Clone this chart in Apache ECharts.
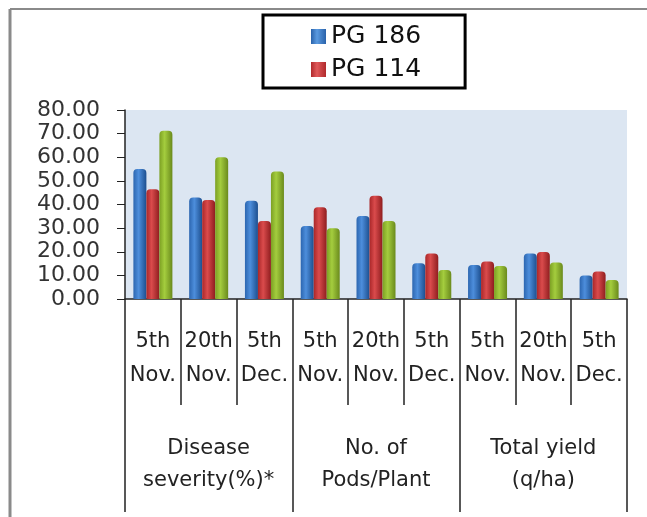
<!DOCTYPE html>
<html><head><meta charset="utf-8">
<script src="https://cdn.jsdelivr.net/npm/echarts@6/dist/echarts.min.js"></script>
<style>html,body{margin:0;padding:0;background:#fff}#c{width:647px;height:517px}</style>
</head><body><div id="c"></div>
<script>
const categories = ['5th\nNov.','20th\nNov.','5th\nDec.','5th\nNov.','20th\nNov.','5th\nDec.','5th\nNov.','20th\nNov.','5th\nDec.'];
const groups = ['Disease\nseverity(%)*','No. of\nPods/Plant','Total yield\n(q/ha)'];
const seriesNames = ['PG 186','PG 114','Series 3'];
const pg186 = [55.0, 43.0, 41.6, 30.9, 35.1, 15.1, 14.4, 19.3, 10.0];
const pg114 = [46.5, 41.9, 33.0, 38.8, 43.7, 19.3, 15.9, 19.9, 11.6];
const series3 = [71.2, 60.0, 54.0, 30.0, 33.0, 12.3, 14.0, 15.5, 8.0];
const yTicks = {min: 0, max: 80, interval: 10};

function grad(a, b, c) {
  return new echarts.graphic.LinearGradient(0, 0, 1, 0, [
    {offset: 0, color: a}, {offset: 0.4, color: b}, {offset: 1, color: c}
  ]);
}
const fills = [
  grad('#2c66b0', '#4d8edc', '#1d4f8f'),
  grad('#aa2729', '#da4b4c', '#8f1d1f'),
  grad('#7ca023', '#a4cd3e', '#6a8a1c')
];
const legendFills = [grad('#2a62aa', '#5a9ae0', '#2a62aa'), grad('#b02a2c', '#e0595a', '#b02a2c')];
const datas = [pg186, pg114, series3];

const chart = echarts.init(document.getElementById('c'), null, {renderer: 'canvas'});
chart.setOption({
  animation: false,
  backgroundColor: '#fff',
  textStyle: {fontFamily: 'DejaVu Sans'},
  graphic: [
    {type: 'line', shape: {x1: 10, y1: 9, x2: 647, y2: 9}, style: {stroke: '#8a8a8a', lineWidth: 2}},
    {type: 'line', shape: {x1: 10, y1: 9, x2: 10, y2: 517}, style: {stroke: '#8a8a8a', lineWidth: 3}}
  ],
  legend: {
    data: [
      {name: 'PG 186', itemStyle: {color: legendFills[0]}},
      {name: 'PG 114', itemStyle: {color: legendFills[1]}}
    ],
    orient: 'vertical', left: 263, top: 15,
    icon: 'rect', itemWidth: 15, itemHeight: 15, itemGap: 8,
    padding: [9, 44, 6, 48],
    borderColor: '#000', borderWidth: 3,
    textStyle: {fontSize: 25, color: '#111', fontFamily: 'DejaVu Sans'}
  },
  grid: {left: 125, right: 20, top: 110, bottom: 218, show: true, backgroundColor: '#dce6f2', borderWidth: 0, containLabel: false},
  xAxis: [
    {
      type: 'category', data: categories, position: 'bottom',
      axisLine: {show: true, lineStyle: {color: '#222', width: 1.5}},
      axisTick: {show: true, interval: 0, length: 106, lineStyle: {color: '#222', width: 1.5}},
      axisLabel: {interval: 0, margin: 26, fontSize: 21, lineHeight: 34, color: '#222'}
    },
    {
      type: 'category', data: groups, position: 'bottom',
      axisLine: {show: false},
      axisTick: {show: true, interval: 0, length: 213, lineStyle: {color: '#222', width: 1.5}},
      axisLabel: {interval: 0, margin: 134, fontSize: 21, lineHeight: 32, color: '#222'}
    }
  ],
  yAxis: {
    type: 'value', min: yTicks.min, max: yTicks.max, interval: yTicks.interval,
    axisLine: {show: true, lineStyle: {color: '#222', width: 1.5}},
    axisTick: {show: true, length: 8, lineStyle: {color: '#222'}},
    splitLine: {show: false},
    axisLabel: {fontSize: 22, color: '#333', margin: 25, formatter: v => v.toFixed(2)}
  },
  series: seriesNames.map((n, i) => ({
    name: n, type: 'bar', xAxisIndex: 0, data: datas[i],
    barWidth: 13, barGap: '0%',
    itemStyle: {color: fills[i], borderRadius: [4, 4, 0, 0]}
  }))
});
</script></body></html>
